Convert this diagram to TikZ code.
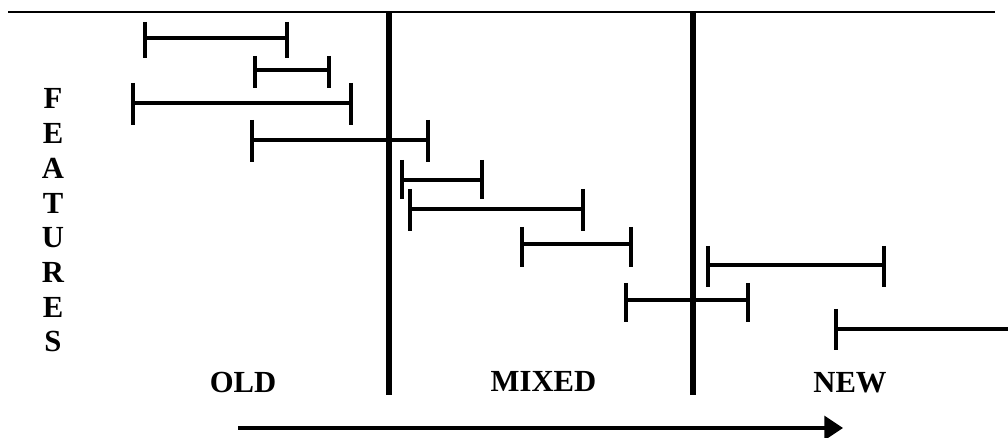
\documentclass[tikz,border=0pt]{standalone}
\usepackage{fontspec}
\setmainfont{Liberation Serif}
\usetikzlibrary{arrows.meta}
\begin{document}
\begin{tikzpicture}[x=0.75pt,y=-0.75pt,
  rule/.style={line width=2.2pt},
  divider/.style={line width=3.9pt},
  span/.style={line width=2.4pt},
  lbl/.style={font=\fontsize{23pt}{26pt}\selectfont\bfseries, inner sep=0pt, anchor=base},
  timeline/.style={line width=2.4pt, -{Triangle[length=14pt,width=18pt]}}]
  \useasboundingbox (0,0) rectangle (1008,438);

  % frame: top rule and the two period dividers
  \coordinate (tl) at (8,12);
  \coordinate (tr) at (995,12);
  \draw[rule] (tl) -- (tr);
  \coordinate (d1t) at (389,12);
  \coordinate (d1b) at (389,395);
  \coordinate (d2t) at (693,12);
  \coordinate (d2b) at (693,395);
  \draw[divider] (d1t) -- (d1b);
  \draw[divider] (d2t) -- (d2b);

  % feature lifetimes: start x / end x / y / tick top / tick bottom
  \foreach \xa/\xb/\y/\t/\b [count=\i] in {
      145/287/38/22/58,
      255/329/70/56/88,
      133/351/103/83/125,
      252/428/140/120/162,
      402/482/180/160/199,
      410/583/209/189/231,
      522/631/244/227/267,
      708/884/265/246/287,
      626/748/300/283/322,
      836/1012/329/309/350} {
    \coordinate (s\i) at (\xa,\y);
    \coordinate (e\i) at (\xb,\y);
    \draw[span] (s\i) -- (e\i);
    \draw[span] (\xa,\t) -- (\xa,\b);
    \ifnum\i<10 \draw[span] (\xb,\t) -- (\xb,\b); \fi
  }

  % vertical axis label
  \foreach \ch [count=\k] in {F,E,A,T,U,R,E,S} {
    \node[lbl] (feat\k) at (53,{109+34.7*(\k-1)}) {\ch};
  }

  % period labels
  \node[lbl] (old) at (243,393) {OLD};
  \node[lbl] (mixed) at (543.5,392) {MIXED};
  \node[lbl] (new) at (850,393) {NEW};

  % time direction
  \coordinate (ts) at (238,428);
  \coordinate (te) at (843,428);
  \draw[timeline] (ts) -- (te);
\end{tikzpicture}
\end{document}
